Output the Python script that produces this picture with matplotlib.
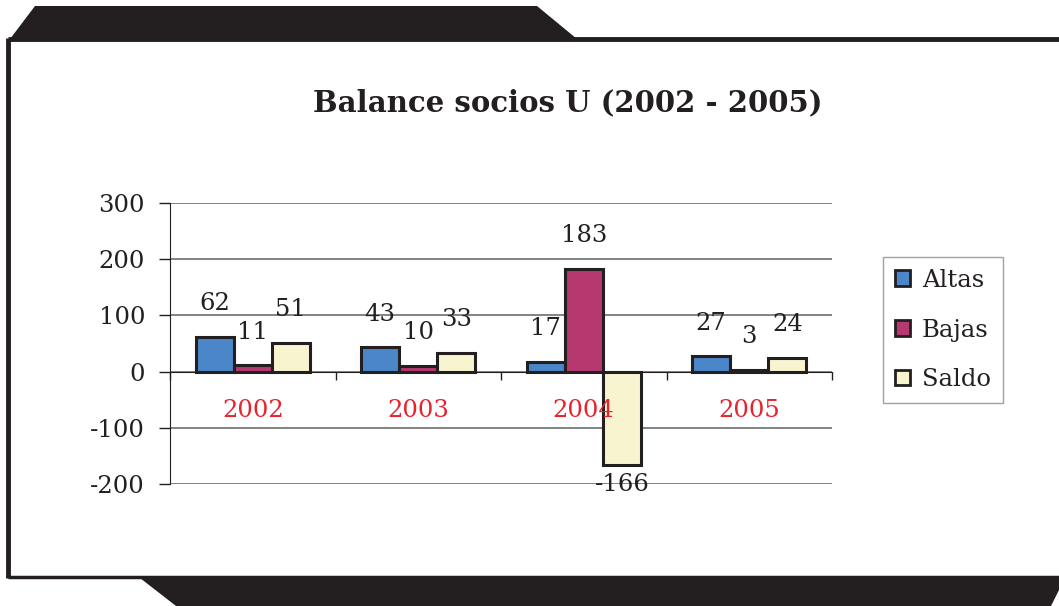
import matplotlib.pyplot as plt
from matplotlib.patches import Patch, Polygon

years = ['2002', '2003', '2004', '2005']
altas = [62, 43, 17, 27]
bajas = [11, 10, 183, 3]
saldo = [51, 33, -166, 24]
series = ['Altas', 'Bajas', 'Saldo']
colors = ['#4a86c8', '#b5386f', '#f8f4d0']

plt.rcParams['font.family'] = 'DejaVu Serif'
plt.rcParams['axes.unicode_minus'] = False

W, H = 1059, 606
fig = plt.figure(figsize=(W / 100, H / 100), dpi=100)

# decorative frame, drawn in pixel coords
bg = fig.add_axes([0, 0, 1, 1], zorder=-1)
bg.set_xlim(0, W)
bg.set_ylim(H, 0)
bg.axis('off')
bg.add_patch(Polygon([(10, 39), (35, 6), (537, 6), (577, 39)], closed=True,
                     color='#231f20', lw=0))
bg.add_patch(Polygon([(140, 578), (W, 578), (W, 590), (1051, 606), (176, 606)],
                     closed=True, color='#231f20', lw=0))
bg.plot([8, 8], [38, 578], color='#231f20', lw=3.5, solid_capstyle='butt')
bg.plot([8, W], [38.5, 38.5], color='#231f20', lw=3.5, solid_capstyle='butt')
bg.plot([8, W], [577, 577], color='#231f20', lw=2.5, solid_capstyle='butt')

# plot area
ax = fig.add_axes([170 / W, 1 - 484 / H, (832 - 170) / W, (484 - 203) / H])
x = range(len(years))
bw = 0.23
for i, (vals, c) in enumerate(zip([altas, bajas, saldo], colors)):
    xs = [xi + (i - 1) * bw for xi in x]
    ax.bar(xs, vals, width=bw, color=c, edgecolor='#231f20', linewidth=2.2,
           zorder=3)
    for xv, v in zip(xs, vals):
        if v >= 0:
            ax.annotate(str(v), (xv, v), xytext=(0, 24), textcoords='offset points',
                        ha='center', va='center', fontsize=17.5, color='#231f20')
        else:
            ax.annotate(str(v), (xv, v), xytext=(0, -14), textcoords='offset points',
                        ha='center', va='center', fontsize=17.5, color='#231f20')

for xi, yr in zip(x, years):
    ax.text(xi, -70, yr, ha='center', va='center', fontsize=17.5, color='#e8232e',
            zorder=4)

ax.set_xlim(-0.5, 3.5)
ax.set_ylim(-200, 300)
ax.set_yticks([-200, -100, 0, 100, 200, 300])
ax.set_xticks([-0.5, 0.5, 1.5, 2.5, 3.5])
ax.set_xticklabels([])
ax.tick_params(axis='y', direction='out', length=8, width=1, pad=10,
               labelsize=17.5, labelcolor='#231f20', color='#231f20')
ax.tick_params(axis='x', direction='out', length=6, width=1, color='#231f20')
ax.spines['bottom'].set_position(('data', 0))
ax.spines['bottom'].set_color('#231f20')
ax.spines['left'].set_color('#231f20')
ax.spines['top'].set_visible(False)
ax.spines['right'].set_visible(False)
ax.grid(axis='y', color='#7a7a7a', linewidth=1.3, zorder=0)
ax.set_axisbelow(True)
ax.patch.set_alpha(0)

fig.text(568 / W, 1 - 103 / H, 'Balance socios U (2002 - 2005)', ha='center',
         va='center', fontsize=21, fontweight='bold', color='#231f20')

handles = [Patch(facecolor=c, edgecolor='#231f20', linewidth=2) for c in colors]
leg = fig.legend(handles, series, loc='center left',
                 bbox_to_anchor=(883 / W, 1 - 330 / H), fontsize=17.5,
                 frameon=True, fancybox=False, handlelength=0.6,
                 handleheight=0.6, handletextpad=0.5, labelspacing=1.1,
                 borderpad=0.5, borderaxespad=0)
leg.get_frame().set_edgecolor('#8a8a8a')
leg.get_frame().set_linewidth(1)
for t in leg.get_texts():
    t.set_color('#231f20')

fig.savefig('out.png', dpi=100)
